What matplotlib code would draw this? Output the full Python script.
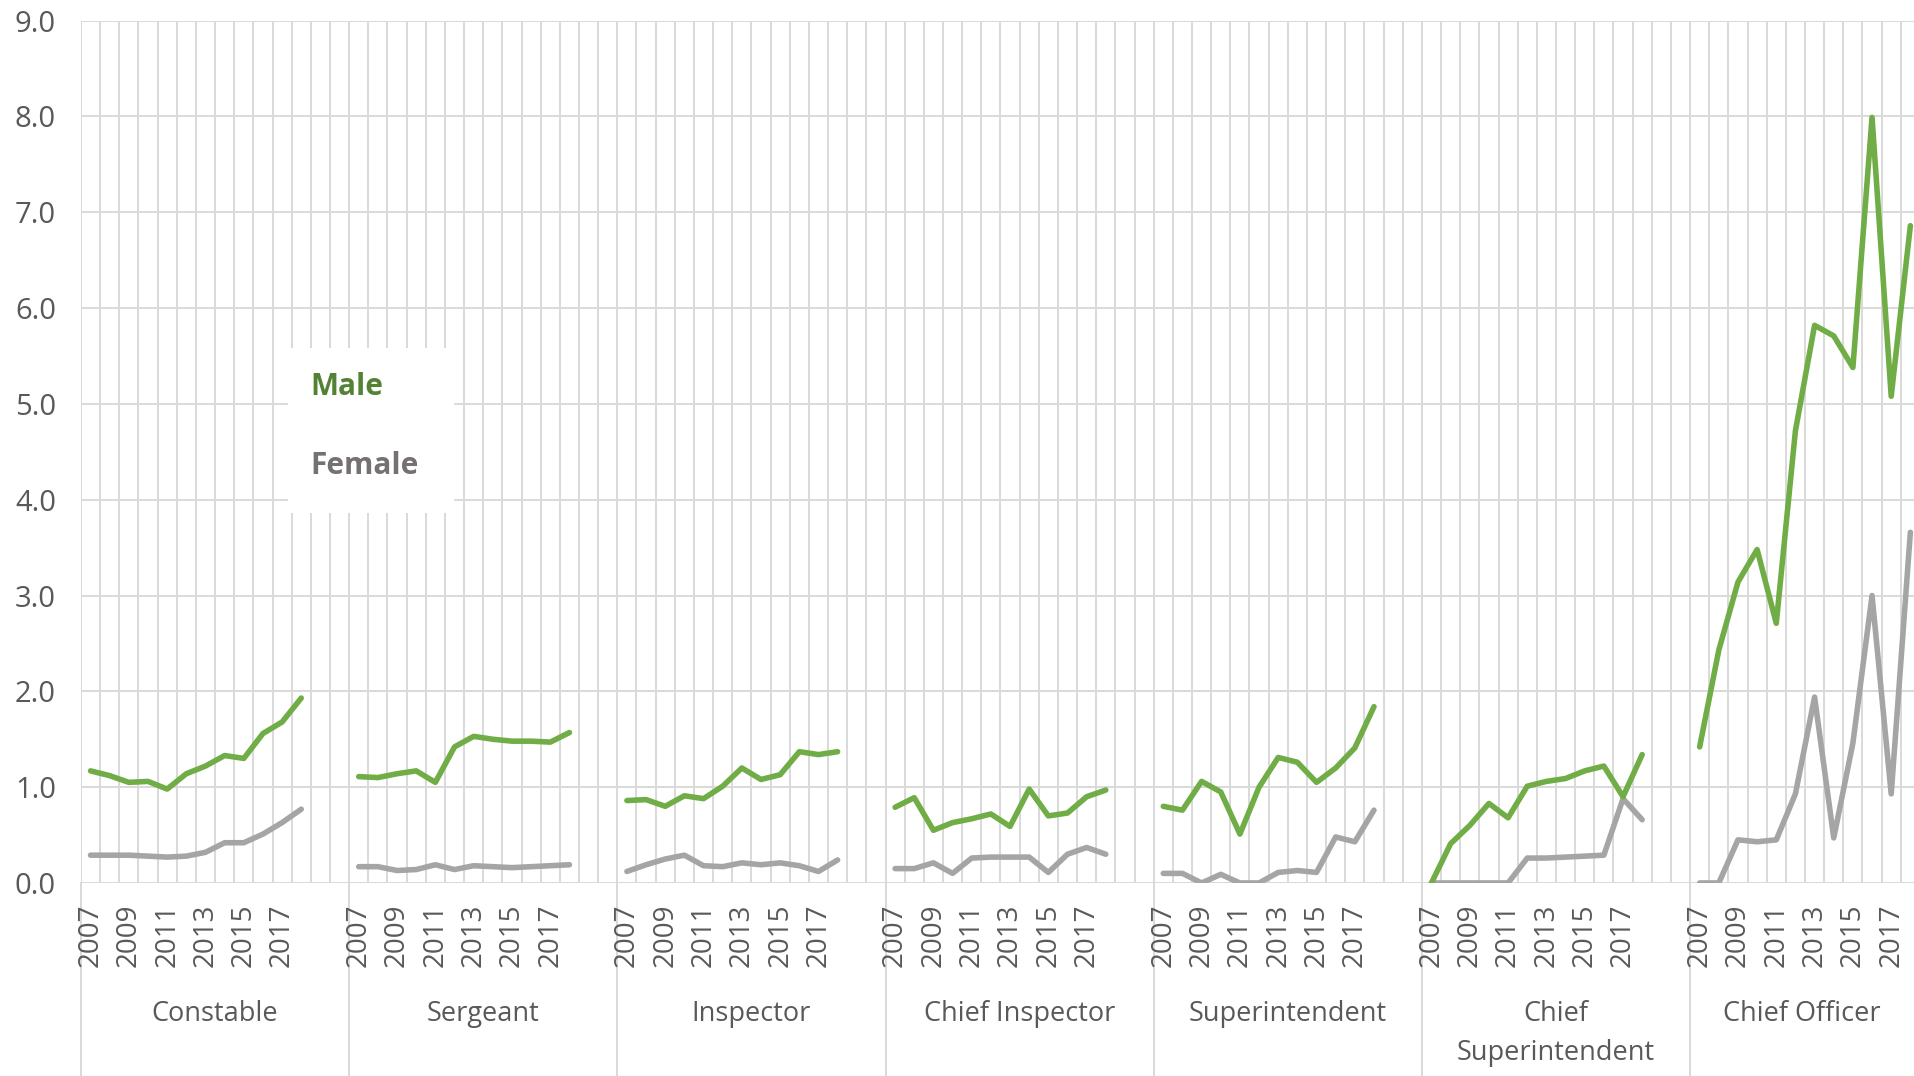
import matplotlib
matplotlib.use("Agg")
import matplotlib.pyplot as plt
import matplotlib.patches as mpatches
import matplotlib.transforms as mtransforms
import numpy as np

plt.rcParams["font.family"] = ["Open Sans", "DejaVu Sans"]

# ── data ─────────────────────────────────────────────────────────────────────
years = list(range(2007, 2019))
ranks = ["Constable", "Sergeant", "Inspector", "Chief Inspector",
         "Superintendent", "Chief\nSuperintendent", "Chief Officer"]

male = [
    [1.17, 1.12, 1.05, 1.06, 0.98, 1.14, 1.22, 1.33, 1.30, 1.56, 1.68, 1.93],
    [1.11, 1.10, 1.14, 1.17, 1.05, 1.42, 1.53, 1.50, 1.48, 1.48, 1.47, 1.57],
    [0.86, 0.87, 0.80, 0.91, 0.88, 1.01, 1.20, 1.08, 1.13, 1.37, 1.34, 1.37],
    [0.79, 0.89, 0.55, 0.63, 0.67, 0.72, 0.59, 0.98, 0.70, 0.73, 0.90, 0.97],
    [0.80, 0.76, 1.06, 0.95, 0.51, 1.00, 1.31, 1.26, 1.05, 1.20, 1.41, 1.84],
    [0.00, 0.41, 0.60, 0.83, 0.68, 1.01, 1.06, 1.09, 1.17, 1.22, 0.90, 1.34],
    [1.42, 2.43, 3.14, 3.48, 2.71, 4.72, 5.82, 5.71, 5.38, 7.99, 5.08, 6.86],
]
female = [
    [0.29, 0.29, 0.29, 0.28, 0.27, 0.28, 0.32, 0.42, 0.42, 0.51, 0.63, 0.77],
    [0.17, 0.17, 0.13, 0.14, 0.19, 0.14, 0.18, 0.17, 0.16, 0.17, 0.18, 0.19],
    [0.12, 0.19, 0.25, 0.29, 0.18, 0.17, 0.21, 0.19, 0.21, 0.18, 0.12, 0.24],
    [0.15, 0.15, 0.21, 0.10, 0.26, 0.27, 0.27, 0.27, 0.11, 0.30, 0.37, 0.30],
    [0.10, 0.10, 0.00, 0.09, 0.00, 0.00, 0.11, 0.13, 0.11, 0.48, 0.43, 0.76],
    [0.00, 0.00, 0.00, 0.00, 0.00, 0.26, 0.26, 0.27, 0.28, 0.29, 0.88, 0.66],
    [0.00, 0.00, 0.45, 0.43, 0.45, 0.93, 1.94, 0.47, 1.46, 3.00, 0.93, 3.66],
]

# ── layout ───────────────────────────────────────────────────────────────────
GREEN, GREY = "#70AD47", "#A5A5A5"
GRID = "#D9D9D9"
TXT = "#595959"
SLOTS = 14          # 12 years + 2 empty categories per rank
XMAX = 95.69        # reference is cropped just past the last point

fig = plt.figure(figsize=(19.14, 10.76), dpi=100)
fig.patch.set_facecolor("white")
ax = fig.add_axes([0.0423, 0.1794, 1.0 - 0.0423, 0.8014])

for g in range(len(ranks)):
    xs = g * SLOTS + np.arange(len(years)) + 0.5
    ax.plot(xs, male[g], color=GREEN, lw=4.0, solid_capstyle="round",
            solid_joinstyle="round", zorder=4)
    ax.plot(xs, female[g], color=GREY, lw=4.0, solid_capstyle="round",
            solid_joinstyle="round", zorder=3)

ax.set_yticks(np.arange(0, 10, 1))
ax.set_yticklabels([f"{v:.1f}" for v in range(10)])
ax.set_xticks(np.arange(0, len(ranks) * SLOTS + 1))
ax.set_xticklabels([])
ax.set_xlim(0, XMAX)
ax.set_ylim(0, 9)
ax.grid(True, color=GRID, lw=1.4)
ax.set_axisbelow(True)
for s in ax.spines.values():
    s.set_visible(False)
ax.tick_params(axis="y", length=0, labelsize=21, labelcolor=TXT, pad=18)
ax.tick_params(axis="x", length=0, pad=0)

# year + rank labels below the axis
trans = mtransforms.blended_transform_factory(ax.transData, ax.transAxes)
for g, rank in enumerate(ranks):
    x0 = g * SLOTS
    for k in range(0, len(years), 2):
        ax.text(x0 + k + 0.5, -0.024, str(years[k]), transform=trans,
                rotation=90, ha="center", va="top", fontsize=20, color=TXT)
    x_mid = (x0 + min(x0 + SLOTS, XMAX)) / 2
    ax.text(x_mid, -0.136, rank, transform=trans, ha="center", va="top",
            fontsize=19.5, color=TXT, linespacing=1.5)
    ax.plot([x0, x0], [0, -0.3], transform=trans, color=GRID, lw=1.4,
            clip_on=False, zorder=1)

# legend: plain coloured labels on a white box
ax.add_patch(mpatches.Rectangle((0.1129, 0.429), 0.0906, 0.1914,
                                transform=ax.transAxes, facecolor="white",
                                edgecolor="none", zorder=5))
ax.text(0.1249, 0.5757, "Male", transform=ax.transAxes, fontsize=21.5,
        fontweight="bold", color="#548235", va="center", ha="left", zorder=6)
ax.text(0.1249, 0.4841, "Female", transform=ax.transAxes, fontsize=21.5,
        fontweight="bold", color="#767171", va="center", ha="left", zorder=6)

plt.savefig("out.png", dpi=100, facecolor="white")
